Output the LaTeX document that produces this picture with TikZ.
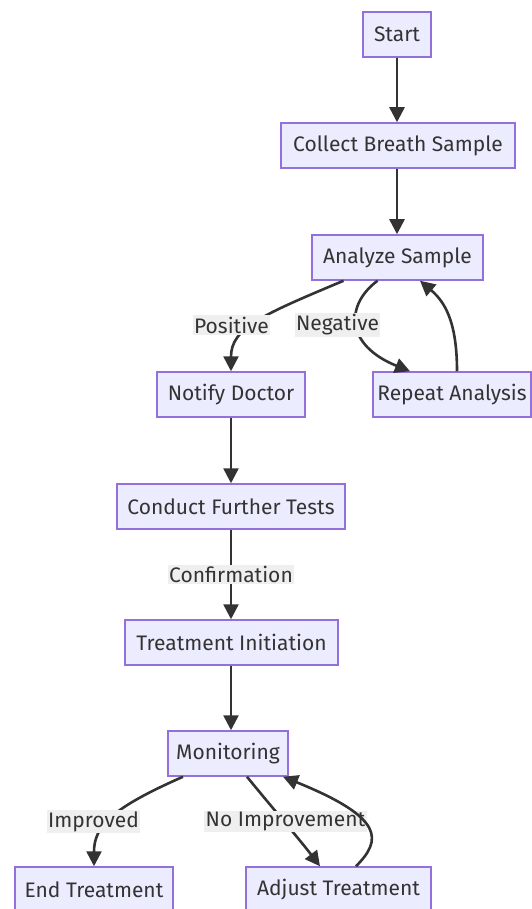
\documentclass[tikz,border=0pt]{standalone}
\usepackage{fontspec}
\setmainfont{Fira Sans}
\usetikzlibrary{arrows.meta}
\definecolor{nodefill}{HTML}{ECECFF}
\definecolor{nodeline}{HTML}{9370DB}
\definecolor{ink}{HTML}{333333}
\definecolor{labelgray}{HTML}{EFEFEF}
\tikzset{
  box/.style={draw=nodeline, fill=nodefill, line width=1.5pt, inner sep=0pt,
    minimum height=45pt, text=ink, font=\fontsize{21}{25}\selectfont},
  flow/.style={draw=ink, line width=2.6pt, -{Triangle[length=15pt,width=15pt]}},
  elabel/.style={fill=labelgray, inner sep=1.5pt, text=ink, font=\fontsize{21}{25}\selectfont}
}
\begin{document}
\begin{tikzpicture}[x=1pt,y=-1pt]
\useasboundingbox (0,0) rectangle (532,909);
\node[box, minimum width=68pt] (start) at (397,34.5) {Start};
\node[box, minimum width=234pt] (collect) at (398,145.5) {Collect Breath Sample};
\node[box, minimum width=171pt] (analyze) at (397.5,257.5) {Analyze Sample};
\node[box, minimum width=148pt] (notify) at (231,394.5) {Notify Doctor};
\node[box, minimum width=158pt] (repeat) at (452,394.5) {Repeat Analysis};
\node[box, minimum width=228pt] (conduct) at (231,506.5) {Conduct Further Tests};
\node[box, minimum width=213pt] (treat) at (231.5,642.5) {Treatment Initiation};
\node[box, minimum width=120pt] (monitor) at (228,753.5) {Monitoring};
\node[box, minimum width=158pt] (endt) at (94,889.5) {End Treatment};
\node[box, minimum width=185pt] (adjust) at (338.5,889.5) {Adjust Treatment};

\draw[flow] (start.south) -- (start.south |- collect.north);
\draw[flow] (collect.south -| start.south) -- (analyze.north -| start.south);

% Positive
\draw[flow] ([xshift=-54pt]analyze.south) .. controls (262,315) and (231,328) .. (notify.north);
\node[elabel] (lpos) at (231.5,325) {Positive};
% Negative
\draw[flow] ([xshift=-20pt]analyze.south) .. controls (345,305) and (345,345) .. ([xshift=-42pt]repeat.north);
\node[elabel] (lneg) at (337.5,325) {Negative};
% Repeat back
\draw[flow] ([xshift=5pt]repeat.north) .. controls (457,322) and (445,302) .. ([xshift=22.5pt]analyze.south);

\draw[flow] (notify.south) -- (notify.south |- conduct.north);
\draw[flow] (conduct.south) -- (conduct.south |- treat.north) node[midway, elabel] (lconf) {Confirmation};
\draw[flow] (treat.south -| conduct.south) -- (monitor.north -| conduct.south);

% Improved
\draw[flow] ([xshift=-45pt]monitor.south) .. controls (112,808) and (94,826) .. (endt.north);
\node[elabel] (limp) at (93.5,821.5) {Improved};
% No improvement
\draw[flow] ([xshift=19pt]monitor.south) .. controls (270,805) and (300,840) .. ([xshift=-18.5pt]adjust.north);
\node[elabel] (lnoimp) at (285.5,821.5) {No Improvement};
% back to monitoring
\draw[flow] ([xshift=17.5pt]adjust.north) .. controls (382,840) and (385,818) .. ([xshift=55pt]monitor.south);
\end{tikzpicture}
\end{document}
